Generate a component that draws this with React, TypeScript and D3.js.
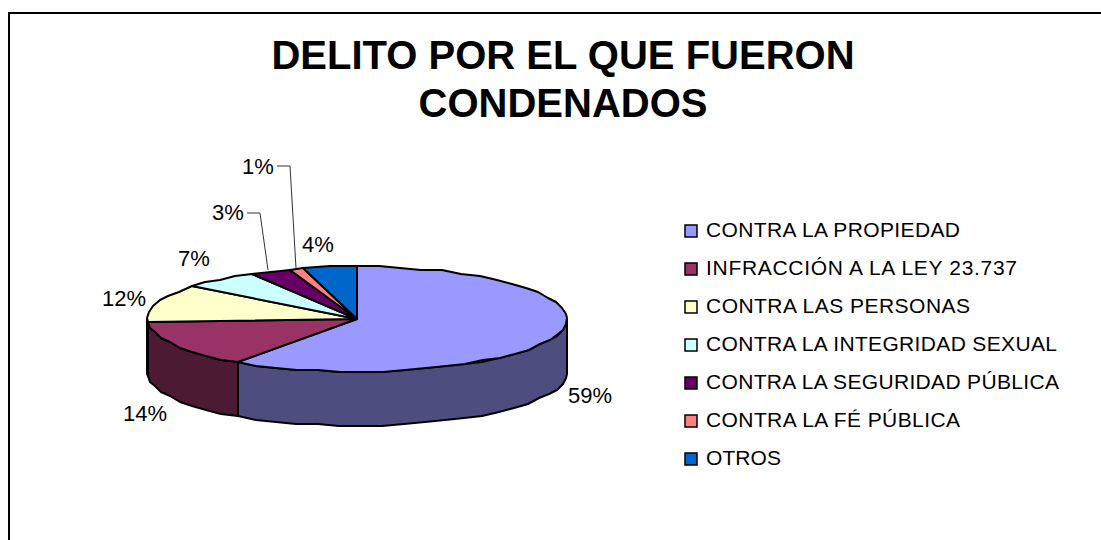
import React from "react";
import * as d3 from "d3";

const categories = [
  "CONTRA LA PROPIEDAD",
  "INFRACCIÓN A LA LEY 23.737",
  "CONTRA LAS PERSONAS",
  "CONTRA LA INTEGRIDAD SEXUAL",
  "CONTRA LA SEGURIDAD PÚBLICA",
  "CONTRA LA FÉ PÚBLICA",
  "OTROS",
];
// slice shares as measured on the drawn pie
const shares = [59.6, 14.3, 11.7, 6.1, 3.1, 1.1, 4.1];
const percentLabels = ["59%", "14%", "12%", "7%", "3%", "1%", "4%"];
const topColors = ["#9999ff", "#993366", "#ffffcc", "#ccffff", "#660066", "#ff8080", "#0066cc"];
const titleLines = ["DELITO POR EL QUE FUERON", "CONDENADOS"];

const labelPos: [number, number][] = [
  [590, 403], [145, 421], [124, 306], [194, 266], [228, 220], [258, 174], [318, 252],
];
const leaders: [number, number][][] = [
  [[247, 213], [260, 213], [268, 270]],
  [[277, 166], [290, 166], [296, 268]],
];
const legendWidths = [254, 311, 264, 351, 353, 254, 75];

const width = 1101;
const height = 540;
const cx = 357;
const cy = 319;
const rx = 210;
const ry = 52.5;
const depth = 54;
const font = "'Liberation Sans', Arial, sans-serif";

const x = d3.scaleLinear().domain([-1, 1]).range([cx - rx, cx + rx]);
const y = d3.scaleLinear().domain([-1, 1]).range([cy - ry, cy + ry]);

// angle clockwise from 12 o'clock onto the squashed ellipse
const rim = (a: number, dy = 0): [number, number] => [x(Math.sin(a)), y(-Math.cos(a)) + dy];
// the original outline is a coarse polygon with a slightly stepped look
const snap = (p: [number, number]): [number, number] => [Math.round(p[0]), Math.round(p[1] / 2) * 2];
const arcPts = (a0: number, a1: number, dy = 0) => {
  const n = Math.max(1, Math.round((a1 - a0) / (Math.PI / 30)));
  return d3.range(n + 1).map((i) => snap(rim(a0 + ((a1 - a0) * i) / n, dy)));
};
const line = d3.line();

export default function App() {
  const arcs = d3.pie<number>().sort(null)(shares);
  const front = arcs
    .map((d, i) => ({
      i,
      a0: Math.max(d.startAngle, Math.PI / 2),
      a1: Math.min(d.endAngle, (3 * Math.PI) / 2),
    }))
    .filter((d) => d.a1 > d.a0);

  return (
    <svg
      width={width}
      height={height}
      style={{ position: "absolute", left: 0, top: 0, background: "#fff" }}
      fontFamily={font}
    >
      <path d="M9,540V13H1101" fill="none" stroke="#000" strokeWidth={2} />

      {titleLines.map((t, i) => (
        <text key={t} x={563} y={69 + i * 48} textAnchor="middle" fontSize={40} fontWeight="bold" fill="#000">
          {t}
        </text>
      ))}

      {front.map((d) => {
        const rgb = d3.rgb(topColors[d.i]);
        const side = d3.rgb(rgb.r / 2, rgb.g / 2, rgb.b / 2).formatHex();
        const pts = [...arcPts(d.a0, d.a1), ...arcPts(d.a0, d.a1, depth).reverse()];
        return (
          <path
            key={d.i}
            d={line(pts) + "Z"}
            fill={side}
            stroke="#000"
            strokeWidth={2}
            strokeLinejoin="round"
          />
        );
      })}

      {arcs.map((d, i) => (
        <path
          key={i}
          d={line([[cx, cy], ...arcPts(d.startAngle, d.endAngle)]) + "Z"}
          fill={topColors[i]}
          stroke="#000"
          strokeWidth={2}
          strokeLinejoin="round"
        />
      ))}

      {leaders.map((l, i) => (
        <path key={i} d={line(l)!} fill="none" stroke="#333" strokeWidth={1} />
      ))}
      {percentLabels.map((t, i) => (
        <text key={t} x={labelPos[i][0]} y={labelPos[i][1]} textAnchor="middle" fontSize={22} fill="#000">
          {t}
        </text>
      ))}

      {categories.map((t, i) => {
        const rowY = 230 + i * 38;
        return (
          <g key={t}>
            <rect x={685} y={rowY - 5} width={12} height={12} fill={topColors[i]} stroke="#000" strokeWidth={1.5} />
            <text
              x={706}
              y={rowY + 7}
              fontSize={21}
              fill="#000"
              textLength={legendWidths[i]}
              lengthAdjust="spacing"
            >
              {t}
            </text>
          </g>
        );
      })}
    </svg>
  );
}
